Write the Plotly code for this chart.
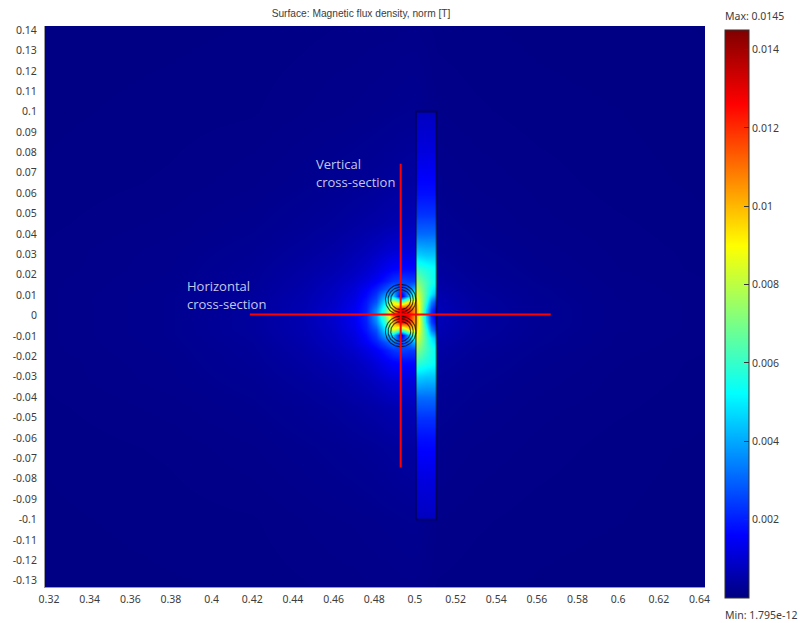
import numpy as np
import plotly.graph_objects as go

W, H = 805, 623
PL, PR, PT, PB = 45, 705, 26, 587

# ---- field samples, in mT ----
field_x = [0.31, 0.38, 0.42, 0.445, 0.46, 0.47, 0.476, 0.481, 0.4855, 0.489, 0.493, 0.497, 0.5004,
           0.5107, 0.53, 0.56, 0.6, 0.65]
field_y_half = [0, 0.003, 0.0065, 0.0095, 0.013, 0.017, 0.023, 0.032, 0.045, 0.065, 0.1, 0.145]
field_half_mT = [
    [.10, .20, .36, .62, .95, 1.4, 2.1, 3.8, 6.8, 11.0, 14.5, 12.5, 10.0, .70, .40, .25, .15, .10],
    [.10, .20, .36, .62, .95, 1.4, 2.0, 3.5, 6.0, 10.0, 13.0, 12.0, 10.0, .70, .40, .25, .15, .10],
    [.10, .20, .36, .60, .90, 1.3, 1.9, 2.8, 5.0, 9.0, 7.0, 9.5, 9.5, .65, .38, .24, .15, .10],
    [.10, .20, .34, .58, .85, 1.2, 1.7, 2.4, 4.0, 4.6, .90, 4.4, 7.0, .60, .36, .23, .14, .10],
    [.10, .19, .32, .54, .80, 1.1, 1.5, 2.0, 2.7, 3.4, 2.6, 3.3, 4.5, .52, .33, .22, .14, .09],
    [.10, .18, .30, .50, .72, .95, 1.2, 1.5, 1.9, 2.3, 2.5, 2.4, 2.5, .45, .30, .20, .13, .09],
    [.09, .17, .28, .44, .60, .78, .95, 1.15, 1.4, 1.6, 1.7, 1.7, 1.7, .38, .26, .18, .12, .08],
    [.09, .16, .24, .36, .47, .60, .70, .82, .95, 1.05, 1.1, 1.1, 1.2, .30, .22, .16, .11, .08],
    [.08, .13, .19, .27, .34, .41, .46, .50, .56, .60, .65, .70, .75, .24, .18, .13, .10, .07],
    [.07, .10, .14, .19, .23, .26, .28, .30, .33, .35, .38, .40, .42, .18, .14, .11, .08, .06],
    [.06, .08, .09, .12, .14, .15, .16, .17, .18, .19, .20, .21, .21, .12, .10, .08, .07, .05],
    [.05, .06, .07, .08, .09, .09, .10, .10, .10, .10, .11, .11, .11, .08, .07, .06, .05, .04],
]

plate_x = [0.5005, 0.5030, 0.5055, 0.5080, 0.5106]
plate_y_half = [0, 0.003, 0.007, 0.011, 0.016, 0.023, 0.03, 0.04, 0.05, 0.06, 0.07, 0.08, 0.09, 0.1]
plate_half_mT = [
    [10.5, 7.5, 4.5, 2.2, 1.2],
    [10.5, 7.8, 4.8, 2.5, 1.4],
    [9.8, 7.8, 5.8, 3.5, 2.2],
    [8.8, 7.5, 6.2, 5.0, 4.0],
    [7.5, 6.8, 6.2, 5.6, 5.2],
    [6.0, 5.8, 5.6, 5.4, 5.2],
    [4.6, 4.5, 4.4, 4.4, 4.4],
    [3.1, 3.1, 3.1, 3.1, 3.1],
    [2.3, 2.3, 2.3, 2.3, 2.3],
    [1.8, 1.8, 1.8, 1.8, 1.8],
    [1.5, 1.5, 1.5, 1.5, 1.5],
    [1.2, 1.2, 1.2, 1.2, 1.2],
    [1.0, 1.0, 1.0, 1.0, 1.0],
    [.80, .80, .80, .80, .80],
]

# ---- geometry ----
plate_outline_x = [0.5005, 0.5106, 0.5106, 0.5005, 0.5005]
plate_outline_y = [-0.1, -0.1, 0.1, 0.1, -0.1]
coil_x = 0.493
coil_y = [0.0078, -0.0078]
coil_radii = [0.0075, 0.0062, 0.0049]
vertical_x = [0.493, 0.493]
vertical_y = [-0.0745, 0.0745]
horizontal_x = [0.4188, 0.5668]
horizontal_y = [0.0005, 0.0005]

# ---- labels ----
x_ticks = [0.32, 0.34, 0.36, 0.38, 0.4, 0.42, 0.44, 0.46, 0.48, 0.5, 0.52, 0.54, 0.56, 0.58, 0.6, 0.62, 0.64]
y_ticks = [0.14, 0.13, 0.12, 0.11, 0.1, 0.09, 0.08, 0.07, 0.06, 0.05, 0.04, 0.03, 0.02, 0.01, 0,
           -0.01, -0.02, -0.03, -0.04, -0.05, -0.06, -0.07, -0.08, -0.09, -0.1, -0.11, -0.12, -0.13]
bar_ticks = [0.002, 0.004, 0.006, 0.008, 0.01, 0.012, 0.014]
TITLE = "Surface: Magnetic flux density, norm [T]"
MAX_LABEL = "Max: 0.0145"
MIN_LABEL = "Min: 1.795e-12"
Z_MIN, Z_MAX = 1.795e-12, 0.0145

FONT = "Noto Sans"
GREY = "#3c3c3c"
NOTE = "#c6c8ea"
JET = [[0, "rgb(0,0,128)"], [0.11, "rgb(0,0,255)"], [0.36, "rgb(0,255,255)"],
       [0.62, "rgb(255,255,0)"], [0.87, "rgb(255,0,0)"], [1, "rgb(128,0,0)"]]


def mirror(y_half, rows):
    y = [-v for v in reversed(y_half[1:])] + list(y_half)
    z = list(reversed(rows[1:])) + list(rows)
    return y, np.array(z) * 1e-3


def tight_edges(x, y, z, eps=1e-6):
    # The heatmap paints half a cell past its outer samples; repeat them a hair inside to stop at the edge.
    x = [x[0], x[0] + eps] + list(x[1:-1]) + [x[-1] - eps, x[-1]]
    y = [y[0], y[0] + eps] + list(y[1:-1]) + [y[-1] - eps, y[-1]]
    z = np.vstack([z[0], z, z[-1]])
    z = np.column_stack([z[:, 0], z, z[:, -1]])
    return x, y, z


def px(x):
    return (x - PL) / (PR - PL)


def py(y):
    return (PB - y) / (PB - PT)


fig = go.Figure()
fy, fz = mirror(field_y_half, field_half_mT)
fig.add_trace(go.Heatmap(x=field_x, y=fy, z=fz, coloraxis="coloraxis", zsmooth="best", hoverinfo="skip"))
ply, plz = mirror(plate_y_half, plate_half_mT)
plx2, ply2, plz2 = tight_edges(plate_x, ply, plz)
fig.add_trace(go.Heatmap(x=plx2, y=ply2, z=plz2, coloraxis="coloraxis", zsmooth="best", hoverinfo="skip"))

fig.add_trace(go.Scatter(x=plate_outline_x, y=plate_outline_y, mode="lines",
                         line=dict(color="rgba(0,0,20,0.62)", width=1.6), hoverinfo="skip"))
t = np.linspace(0, 2 * np.pi, 90)
for cy in coil_y:
    for r in coil_radii:
        fig.add_trace(go.Scatter(x=coil_x + r * np.cos(t), y=cy + r * np.sin(t), mode="lines",
                                 line=dict(color="rgba(0,0,0,0.7)", width=1.1), hoverinfo="skip"))
for xs, ys in ((vertical_x, vertical_y), (horizontal_x, horizontal_y)):
    fig.add_trace(go.Scatter(x=xs, y=ys, mode="lines", line=dict(color="#ff0000", width=2), hoverinfo="skip"))

notes = [("Vertical", 316, 164), ("cross-section", 316, 182), ("Horizontal", 186.5, 286), ("cross-section", 186.5, 304)]
annotations = [dict(text=s, xref="paper", yref="paper", x=px(x), y=py(y), xanchor="left", yanchor="middle",
                    xshift=-2, showarrow=False, font=dict(family="Open Sans", size=13, color=NOTE))
               for s, x, y in notes]
for s, y in ((MAX_LABEL, 16), (MIN_LABEL, 615)):
    annotations.append(dict(text=s, xref="paper", yref="paper", x=px(723), y=py(y), xanchor="left",
                            yanchor="middle", showarrow=False, font=dict(family=FONT, size=10.5, color=GREY)))

BAR_L, BAR_R, BAR_T, BAR_B = 725, 749, 30, 598
shapes = []
for v in bar_ticks:
    yy = BAR_B - (v - Z_MIN) / (Z_MAX - Z_MIN) * (BAR_B - BAR_T)
    shapes.append(dict(type="line", xref="paper", yref="paper", x0=px(BAR_L), x1=px(BAR_L + 5), y0=py(yy), y1=py(yy),
                       line=dict(color="#333333", width=1)))

axis_common = dict(ticks="", showgrid=False, zeroline=False, showline=True, linecolor="#9a9a9a", linewidth=1,
                   mirror=False, tickfont=dict(family=FONT, size=10.5, color=GREY), tickangle=0)
fig.update_layout(
    width=W, height=H, autosize=False, paper_bgcolor="white", plot_bgcolor="rgb(0,0,128)", showlegend=False,
    margin=dict(l=PL, r=W - PR, t=PT, b=H - PB, pad=0),
    title=dict(text=TITLE, x=px(361), xref="paper", xanchor="center", y=1 - 13 / H, yanchor="middle",
               font=dict(family="Liberation Sans", size=10.2, color=GREY)),
    xaxis=dict(range=[0.31803, 0.6427], tickmode="array", tickvals=x_ticks, ticktext=[f"{v:g}" for v in x_ticks],
               ticklabelstandoff=2, **axis_common),
    yaxis=dict(range=[-0.1331, 0.14199], tickmode="array", tickvals=y_ticks, ticktext=[f"{v:g}" for v in y_ticks],
               ticklabelstandoff=5, **axis_common),
    coloraxis=dict(cmin=Z_MIN, cmax=Z_MAX, colorscale=JET, colorbar=dict(
        xref="paper", x=px(BAR_L), xanchor="left", xpad=0,
        yref="paper", y=py(BAR_B), yanchor="bottom", ypad=0,
        lenmode="pixels", len=BAR_B - BAR_T, thicknessmode="pixels", thickness=BAR_R - BAR_L,
        outlinecolor="#333333", outlinewidth=1, ticks="inside", ticklen=5, tickcolor="#333333",
        tickmode="array", tickvals=bar_ticks, ticktext=[f"{v:g}" for v in bar_ticks],
        tickfont=dict(family=FONT, size=10.5, color=GREY))),
    annotations=annotations, shapes=shapes,
)
fig.write_html("out.html", config={"displayModeBar": False},
               post_script="document.body.style.margin='0';document.body.style.overflow='hidden';")
